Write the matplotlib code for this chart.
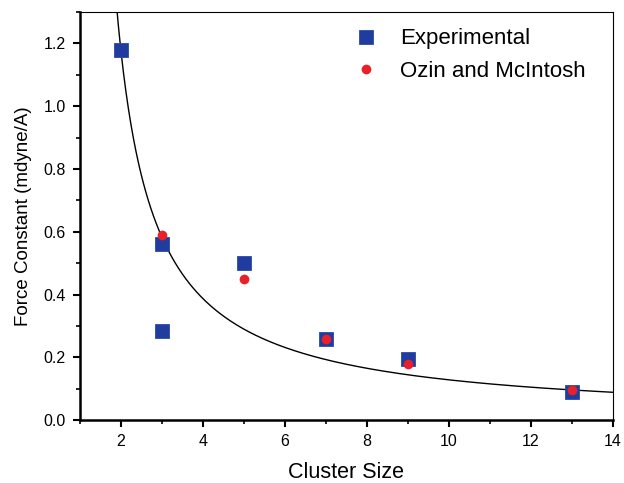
import numpy as np
import matplotlib.pyplot as plt
from matplotlib.ticker import MultipleLocator

plt.rcParams['font.family'] = ['Liberation Sans', 'DejaVu Sans']

# measured force constants vs cluster size
exp_size = [2, 3, 3, 5, 7, 9, 13]
exp_k = [1.18, 0.56, 0.285, 0.50, 0.26, 0.195, 0.09]

ozin_size = [3, 5, 7, 9, 13]
ozin_k = [0.59, 0.45, 0.26, 0.18, 0.095]

# hyperbolic fit k = A / (n - n0)
fit_A = 1.155
fit_n0 = 1.02

fig = plt.figure(figsize=(6.24, 4.83), dpi=100)
ax = fig.add_axes([0.128, 0.130, 0.854, 0.845])

n = np.linspace(1.85, 14, 400)
ax.plot(n, fit_A / (n - fit_n0), color='black', lw=1.0, zorder=2)

ax.plot(exp_size, exp_k, 's', color='#1f3c9e', markersize=10,
        markeredgecolor='#2a4aaa', markeredgewidth=0.6, label='Experimental', zorder=3)
ax.plot(ozin_size, ozin_k, 'o', color='#e8202a', markersize=7,
        markeredgewidth=0, label='Ozin and McIntosh', zorder=4)

ax.set_xlim(1, 14)
ax.set_ylim(0, 1.3)
ax.xaxis.set_major_locator(MultipleLocator(2))
ax.xaxis.set_minor_locator(MultipleLocator(1))
ax.yaxis.set_major_locator(MultipleLocator(0.2))
ax.yaxis.set_minor_locator(MultipleLocator(0.1))
ax.yaxis.set_major_formatter(plt.FormatStrFormatter('%.1f'))

ax.tick_params(which='major', direction='out', length=5, width=1.5, labelsize=11.5, pad=5)
ax.tick_params(which='minor', direction='out', length=3, width=1.2)
ax.tick_params(top=False, right=False)

ax.spines['left'].set_linewidth(1.8)
ax.spines['bottom'].set_linewidth(1.8)
ax.spines['top'].set_linewidth(0.8)
ax.spines['right'].set_linewidth(0.8)

ax.set_xlabel('Cluster Size', fontsize=15.5, labelpad=9)
ax.set_ylabel('Force Constant (mdyne/A)', fontsize=13.5, labelpad=8)

ax.legend(loc='upper left', bbox_to_anchor=(0.516, 0.96), frameon=False,
          borderaxespad=0, borderpad=0, fontsize=16, handletextpad=1.05,
          labelspacing=0.53, handlelength=1.0)

fig.savefig('out.png', dpi=100)
